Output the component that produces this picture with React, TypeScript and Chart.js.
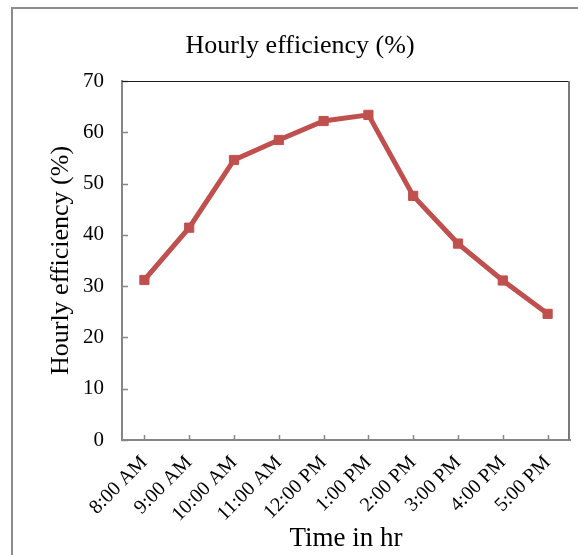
import React, { useEffect, useRef } from "react";
import { Chart, registerables } from "chart.js";

Chart.register(...registerables);

const categories = [
  "8:00 AM", "9:00 AM", "10:00 AM", "11:00 AM", "12:00 PM",
  "1:00 PM", "2:00 PM", "3:00 PM", "4:00 PM", "5:00 PM",
];
const efficiency = [31.2, 41.4, 54.6, 58.5, 62.2, 63.4, 47.6, 38.3, 31.1, 24.6];
const chartTitle = "Hourly efficiency (%)";
const xTitle = "Time in hr";
const yTitle = "Hourly efficiency (%)";

const FONT = "'Liberation Serif', 'Times New Roman', serif";
const AXIS_GRAY = "#868686";

const framePlugin = {
  id: "framePlugin",
  afterDraw(chart: any) {
    const { ctx, chartArea, scales } = chart;
    ctx.save();
    // inner tick marks
    ctx.strokeStyle = AXIS_GRAY;
    ctx.lineWidth = 1.5;
    const y = scales.y;
    y.ticks.forEach((_t: any, i: number) => {
      const py = Math.round(y.getPixelForTick(i)) + 0.5;
      ctx.beginPath();
      ctx.moveTo(chartArea.left, py);
      ctx.lineTo(chartArea.left + 6, py);
      ctx.stroke();
    });
    const x = scales.x;
    x.ticks.forEach((_t: any, i: number) => {
      const px = Math.round(x.getPixelForTick(i)) + 0.5;
      ctx.beginPath();
      ctx.moveTo(px, chartArea.bottom);
      ctx.lineTo(px, chartArea.bottom - 5);
      ctx.stroke();
    });
    // plot border top & right
    ctx.strokeStyle = "#1a1a1a";
    ctx.lineWidth = 1;
    ctx.beginPath();
    ctx.moveTo(chartArea.left, chartArea.top + 0.5);
    ctx.lineTo(chartArea.right, chartArea.top + 0.5);
    ctx.stroke();
    ctx.strokeStyle = "#7a7a7a";
    ctx.lineWidth = 2;
    ctx.beginPath();
    ctx.moveTo(chartArea.right - 1, chartArea.top);
    ctx.lineTo(chartArea.right - 1, chartArea.bottom);
    ctx.stroke();
    // main title
    ctx.fillStyle = "#000";
    ctx.font = `26px ${FONT}`;
    ctx.textAlign = "center";
    ctx.textBaseline = "alphabetic";
    ctx.fillText(chartTitle, 300, 53);
    ctx.restore();
  },
};

export default function App() {
  const ref = useRef<HTMLCanvasElement | null>(null);

  useEffect(() => {
    if (!ref.current) return;
    Chart.defaults.font.family = FONT;
    Chart.defaults.color = "#000";
    const chart = new Chart(ref.current, {
      type: "line",
      data: {
        labels: categories,
        datasets: [
          {
            data: efficiency,
            borderColor: "#C0504D",
            backgroundColor: "#C0504D",
            borderWidth: 5,
            pointStyle: "rect",
            pointRadius: 6.5,
            pointBorderWidth: 1,
            pointBackgroundColor: "#C0504D",
            pointBorderColor: "#C0504D",
            tension: 0,
          },
        ],
      },
      options: {
        animation: false,
        responsive: false,
        maintainAspectRatio: false,
        layout: { padding: { left: 46, right: 8, top: 81, bottom: 0 } },
        plugins: {
          legend: { display: false },
          title: { display: false },
          tooltip: { enabled: false },
        },
        scales: {
          x: {
            type: "category",
            offset: true,
            grid: { display: false, drawTicks: false },
            border: { display: true, color: AXIS_GRAY, width: 2 },
            ticks: {
              minRotation: 45,
              maxRotation: 45,
              autoSkip: false,
              padding: 11,
              font: { size: 20, family: FONT },
              color: "#000",
            },
            title: {
              display: true,
              text: xTitle,
              font: { size: 27, family: FONT },
              color: "#000",
              padding: { top: 0, bottom: 0 },
            },
            afterFit(scale: any) {
              scale.height = 115;
            },
          },
          y: {
            min: 0,
            max: 70,
            grid: { display: false, drawTicks: false },
            border: { display: true, color: AXIS_GRAY, width: 2 },
            ticks: {
              stepSize: 10,
              padding: 18,
              font: { size: 21, family: FONT },
              color: "#000",
            },
            title: {
              display: true,
              text: yTitle,
              font: { size: 26, family: FONT },
              color: "#000",
              padding: { top: 0, bottom: 0 },
            },
            afterFit(scale: any) {
              scale.width = 76;
            },
          },
        },
      },
      plugins: [framePlugin],
    });
    return () => chart.destroy();
  }, []);

  return (
    <div
      style={{
        position: "fixed",
        left: 0,
        top: 0,
        width: 578,
        height: 555,
        overflow: "hidden",
        background: "#fff",
      }}
    >
      <div
        style={{
          position: "absolute",
          left: 11,
          top: 7,
          width: 700,
          height: 700,
          border: "2px solid #8c8c8c",
        }}
      />
      <canvas
        ref={ref}
        width={578}
        height={555}
        style={{ position: "absolute", left: 0, top: 0, width: 578, height: 555 }}
      />
    </div>
  );
}
